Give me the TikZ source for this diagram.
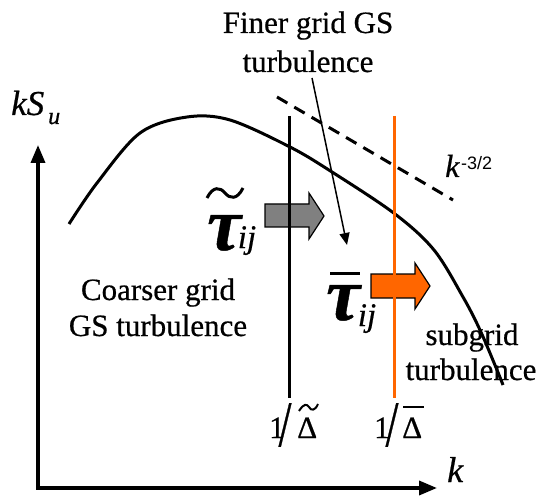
\documentclass[tikz,border=0pt]{standalone}
\usepackage{fontspec}
\setmainfont{Liberation Serif}[FakeBold=0.6]
\newfontfamily\sansf{Liberation Sans}
\usetikzlibrary{arrows.meta}
\definecolor{myorange}{RGB}{255,102,0}
\definecolor{mygrey}{RGB}{128,128,128}
\begin{document}
\begin{tikzpicture}[x=1pt,y=-1pt,
  lbl/.style={font=\fontsize{31}{37}\selectfont, inner sep=0pt, anchor=base},
  itl/.style={font=\fontsize{#1}{#1}\selectfont\itshape, inner sep=0pt, anchor=base west},
  taul/.style={font=\fontsize{76}{76}\selectfont\bfseries\itshape, inner sep=0pt, anchor=base},
  subl/.style={font=\fontsize{33}{33}\selectfont\itshape, inner sep=0pt, anchor=base},
  axisline/.style={line width=3.5pt, line join=miter, {Triangle[length=18pt,width=14pt]}-{Triangle[length=18pt,width=14pt]}},
  cutline/.style={line width=3pt},
  bigarrow/.style={draw=black, line width=1.2pt, line join=miter},
  accent/.style={line width=3pt}
]
\useasboundingbox (0,0) rectangle (545,502);

% axes
\coordinate (ytip) at (38,145);
\coordinate (orig) at (38,488);
\coordinate (xtip) at (437,488);
\draw[axisline] (ytip) -- (orig) -- (xtip);
\node[itl=35] (kS) at (11,115) {kS};
\node[itl=24] (u) at (48,124) {u};
\node[itl=36] (kx) at (447,482) {k};

% spectrum curve
\draw[line width=3pt] plot[smooth, tension=0.55] coordinates {(69,224) (97,183) (140,133) (187,117) (230,120) (290,147) (332,172) (395,214) (434,250) (463,297) (480,330) (497,370) (503,385)};

% -3/2 slope
\draw[line width=3pt, dash pattern=on 12pt off 8pt] (277,97) -- (453,200);
\node[itl=32] (kslope) at (445,177) {k};
\node[font=\fontsize{18}{18}\selectfont\sansf, inner sep=0pt, anchor=base west] (expo) at (461,170) {-3/2};

% block arrows
\draw[bigarrow, fill=mygrey] (265,204) -- (309,204) -- (309,193) -- (324,216) -- (309,239) -- (309,227) -- (265,227) -- cycle;
\draw[bigarrow, fill=myorange] (371,274) -- (415,274) -- (415,263) -- (430,286) -- (415,309) -- (415,298) -- (371,298) -- cycle;

% cut-off lines
\coordinate (c1top) at (289,116);
\coordinate (c1bot) at (289,398);
\coordinate (c2top) at (394,116);
\coordinate (c2bot) at (394,398);
\draw[cutline] (c1top) -- (c1bot);
\draw[cutline, myorange] (c2top) -- (c2bot);

% filtered stresses
\node[taul] (tau1) at (224,250) {τ};
\node[subl] (ij1) at (247,248) {ij};
\draw[accent] (207,198) .. controls (213,186) and (220,187) .. (225,193) .. controls (230,199) and (237,200) .. (243,188);
\node[taul] (tau2) at (343,320) {τ};
\node[subl] (ij2) at (367,326) {ij};
\draw[accent] (330,273) -- (360,273);

% labels
\node[lbl] (fg1) at (308,33) {Finer grid GS};
\node[lbl] (fg2) at (308,72) {turbulence};
\coordinate (fgs) at (312,78);
\coordinate (fge) at (347,245);
\draw[line width=1.5pt, -{Triangle[length=12pt,width=10pt]}] (fgs) -- (fge);

\node[lbl] (cg1) at (158,300) {Coarser grid};
\node[lbl] (cg2) at (158,336) {GS turbulence};
\node[lbl] (sg1) at (472,345) {subgrid};
\node[lbl] (sg2) at (471,380) {turbulence};

% 1/Delta labels
\node[lbl, anchor=base west] (one1) at (269,438) {1};
\node[lbl, anchor=center] (sl1) at (285,425) {\scalebox{1.5}[2.1]{/}};
\node[lbl, anchor=base west] (d1) at (297,438) {Δ};
\draw[line width=2pt] (299,411) .. controls (304,403) and (307,404) .. (309,407) .. controls (311,411) and (315,411) .. (318,404);
\node[lbl, anchor=base west] (one2) at (374,438) {1};
\node[lbl, anchor=center] (sl2) at (392,425) {\scalebox{1.5}[2.1]{/}};
\node[lbl, anchor=base west] (d2) at (402,438) {Δ};
\draw[line width=2pt] (403,407) -- (424,407);
\end{tikzpicture}
\end{document}
